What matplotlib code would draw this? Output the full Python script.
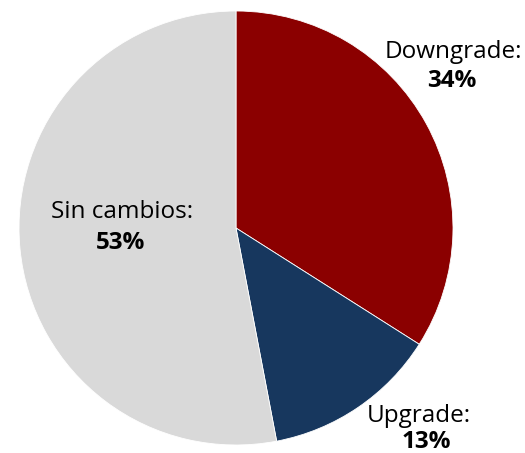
import matplotlib.pyplot as plt

categories = ["Downgrade", "Upgrade", "Sin cambios"]
shares = [34, 13, 53]
colors = ["#8B0000", "#17375E", "#D9D9D9"]

plt.rcParams['font.family'] = ['Open Sans', 'DejaVu Sans']

H = 453
fig = plt.figure(figsize=(5.25, 4.53), dpi=100)
ax = fig.add_axes([0, 0, 1, 1])

ax.pie(shares, colors=colors, startangle=90, counterclock=False,
       center=(236, H - 228), radius=217,
       wedgeprops=dict(edgecolor='white', linewidth=0.6))
ax.set_xlim(0, 525)
ax.set_ylim(0, H)
ax.set_aspect('equal')
ax.axis('off')

# (label x, label baseline y, value x, value baseline y) in pixel rows from top
label_pos = [(453, 58, 452, 87), (419, 422, 426, 448), (122, 218, 121, 249)]
for name, val, (lx, ly, vx, vy) in zip(categories, shares, label_pos):
    ax.text(lx, H - ly, name + ":", ha='center', va='baseline', fontsize=17.5, color='black')
    ax.text(vx, H - vy, f"{val}%", ha='center', va='baseline', fontsize=17.5,
            fontweight='bold', color='black')

fig.savefig("out.png", dpi=100)
